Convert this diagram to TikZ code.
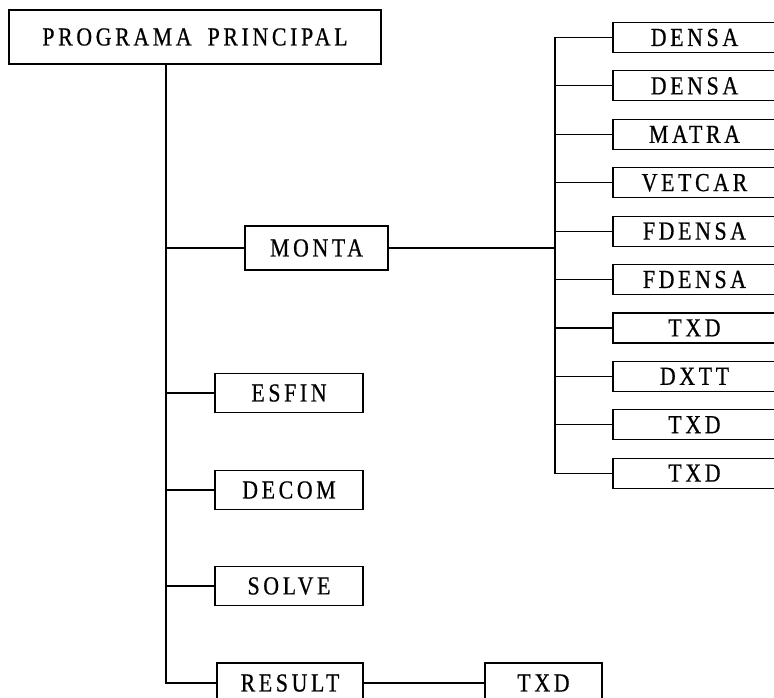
\documentclass[tikz,border=0pt]{standalone}
\usepackage{fontspec}
\setmainfont{Liberation Serif}[LetterSpace=14, FakeStretch=0.84, FakeBold=0.6]

\tikzset{
  routine/.style={draw, line width=1.2pt, inner sep=0pt, minimum height=39pt,
    font=\fontsize{26}{26}\selectfont},
  callee/.style={routine, minimum width=163pt, minimum height=30pt},
  wire/.style={line width=1.2pt},
}

\begin{document}
\begin{tikzpicture}[x=1pt, y=-1pt]

\useasboundingbox (0,0) rectangle (774,698);
\clip (0,0) rectangle (774,698);

% main program and the routines it calls
\node[routine, minimum width=372pt, minimum height=54pt] (prog) at (195,37)
  {PROGRAMA\hspace{16pt}PRINCIPAL};
\node[routine, minimum width=143pt, minimum height=44pt] (monta) at (316.5,248) {MONTA};
\node[routine, minimum width=148pt] (esfin) at (289,393) {ESFIN};
\node[routine, minimum width=148pt] (decom) at (289,490) {DECOM};
\node[routine, minimum width=148pt] (solve) at (289,586) {SOLVE};
\node[routine, minimum width=146pt, minimum height=40pt] (result) at (290,683) {RESULT};
\node[routine, minimum width=117pt, minimum height=40pt] (txdres) at (543.5,683) {TXD};

% trunk down the left side
\coordinate (trunk) at (166,683);
\draw[wire] (prog.south -| trunk) -- (trunk) -- (result.west);
\foreach \n in {monta,esfin,decom,solve}
  \draw[wire] (trunk |- \n) -- (\n.west);
\draw[wire] (result.east) -- (txdres.west);

% routines called by MONTA
\foreach \name [count=\i from 0] in {DENSA,DENSA,MATRA,VETCAR,FDENSA,FDENSA,TXD,DXTT,TXD,TXD}
  \node[callee] (sub\i) at (694.5,{37.5+48.4*\i}) {\name};

\coordinate (bus) at (555,0);
\draw[wire] (monta.east) -- (monta.east -| bus);
\draw[wire] (sub0.west) -- (sub0.west -| bus) -- (sub9.west -| bus) -- (sub9.west);
\foreach \i in {1,...,8}
  \draw[wire] (sub\i.west -| bus) -- (sub\i.west);

\end{tikzpicture}
\end{document}
